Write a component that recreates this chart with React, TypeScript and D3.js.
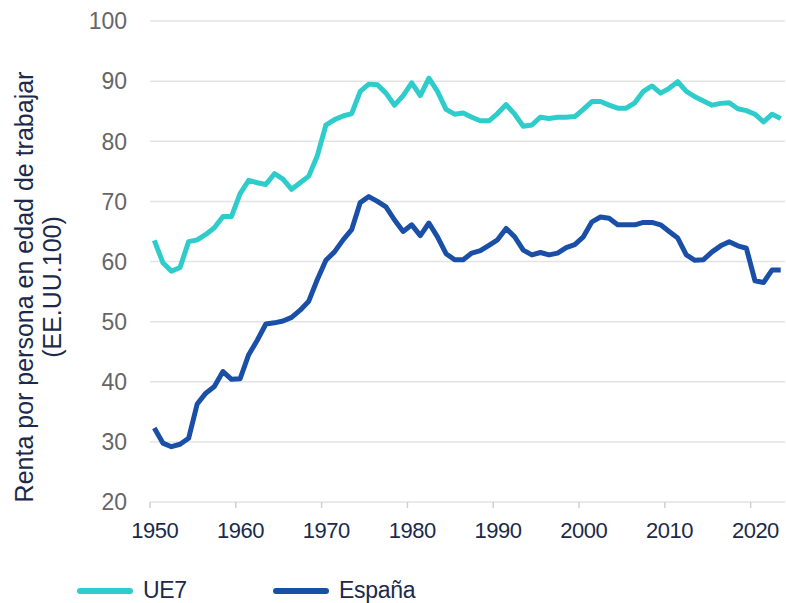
import { useEffect, useRef } from "react";
import * as d3 from "d3";

const years = d3.range(1950, 2024);

const ue7 = [
  63.5, 59.8, 58.4, 59.0, 63.3, 63.6, 64.5, 65.6, 67.5, 67.5,
  71.3, 73.5, 73.1, 72.8, 74.6, 73.7, 72.0, 73.1, 74.2, 77.6,
  82.7, 83.6, 84.2, 84.6, 88.3, 89.5, 89.4, 88.0, 86.0, 87.6,
  89.7, 87.6, 90.5, 88.3, 85.3, 84.5, 84.7, 84.0, 83.4, 83.4,
  84.6, 86.1, 84.5, 82.5, 82.7, 84.0, 83.8, 84.0, 84.0, 84.1,
  85.3, 86.6, 86.6, 86.0, 85.5, 85.5, 86.4, 88.3, 89.2, 88.0,
  88.8, 89.9, 88.3, 87.4, 86.7, 86.0, 86.3, 86.4, 85.4, 85.1,
  84.5, 83.2, 84.5, 83.8,
];

const espana = [
  32.3, 29.8, 29.2, 29.6, 30.6, 36.3, 38.1, 39.2, 41.7, 40.4,
  40.5, 44.5, 46.9, 49.6, 49.8, 50.1, 50.7, 51.9, 53.4, 57.0,
  60.2, 61.6, 63.6, 65.3, 69.8, 70.8, 70.0, 69.1, 66.9, 65.0,
  66.1, 64.3, 66.4, 64.1, 61.3, 60.3, 60.3, 61.4, 61.8, 62.7,
  63.6, 65.5, 64.1, 61.9, 61.1, 61.5, 61.1, 61.4, 62.3, 62.8,
  64.1, 66.6, 67.4, 67.2, 66.1, 66.1, 66.1, 66.5, 66.5, 66.1,
  65.0, 63.9, 61.1, 60.2, 60.3, 61.6, 62.6, 63.3, 62.6, 62.2,
  56.8, 56.5, 58.6, 58.6,
];

const xTicks = [1950, 1960, 1970, 1980, 1990, 2000, 2010, 2020];
const yTicks = [20, 30, 40, 50, 60, 70, 80, 90, 100];

const series = [
  { name: "UE7", values: ue7, color: "#2ECCCB" },
  { name: "España", values: espana, color: "#1A4FA8" },
];

const App = () => {
  const svgRef = useRef<SVGSVGElement>(null);

  useEffect(() => {
    document.body.style.margin = "0";
    if (!svgRef.current) return;

    const svg = d3.select(svgRef.current);
    svg.selectAll("*").remove();

    const width = 786;
    const height = 603;
    const margin = { top: 21, right: 1, bottom: 101, left: 150 };
    const navy = "#1B2A4A";
    const font = "Liberation Sans, Arial, sans-serif";

    const x = d3
      .scaleLinear()
      .domain([1950, 2024])
      .range([margin.left, width - margin.right]);

    const y = d3
      .scaleLinear()
      .domain([20, 100])
      .range([height - margin.bottom, margin.top]);

    // Gridlines
    svg
      .append("g")
      .selectAll("line")
      .data(yTicks)
      .join("line")
      .attr("x1", margin.left)
      .attr("x2", width - margin.right)
      .attr("y1", (d) => y(d))
      .attr("y2", (d) => y(d))
      .attr("stroke", "#E3E3E3")
      .attr("stroke-width", 1.5);

    // Y labels
    svg
      .append("g")
      .selectAll("text")
      .data(yTicks)
      .join("text")
      .attr("x", 127)
      .attr("y", (d) => y(d))
      .attr("dy", "0.36em")
      .attr("text-anchor", "end")
      .attr("fill", "#666666")
      .attr("font-family", font)
      .attr("font-size", "23px")
      .text((d) => d);

    // X axis ticks
    svg
      .append("g")
      .selectAll("line")
      .data(xTicks)
      .join("line")
      .attr("x1", (d) => x(d))
      .attr("x2", (d) => x(d))
      .attr("y1", y(20))
      .attr("y2", y(20) + 6)
      .attr("stroke", "#D0D0D0")
      .attr("stroke-width", 1.5);

    svg
      .append("g")
      .selectAll("text")
      .data(xTicks)
      .join("text")
      .attr("x", (d) => x(d + 0.55))
      .attr("y", 538)
      .attr("text-anchor", "middle")
      .attr("fill", navy)
      .attr("font-family", font)
      .attr("font-size", "22px")
      .attr("letter-spacing", "-0.5px")
      .text((d) => d);

    // Lines
    const line = d3
      .line<number>()
      .x((_, i) => x(years[i] + 0.5))
      .y((d) => y(d));

    svg
      .append("g")
      .selectAll("path")
      .data(series)
      .join("path")
      .attr("d", (d) => line(d.values))
      .attr("fill", "none")
      .attr("stroke", (d) => d.color)
      .attr("stroke-width", 5)
      .attr("stroke-linejoin", "round");

    // Y axis title
    const title = svg
      .append("text")
      .attr("transform", "translate(33,287) rotate(-90)")
      .attr("text-anchor", "middle")
      .attr("fill", navy)
      .attr("font-family", font)
      .attr("font-size", "25px");
    title.append("tspan").attr("x", 0).attr("y", 0).text("Renta por persona en edad de trabajar");
    title.append("tspan").attr("x", 0).attr("y", 28).text("(EE.UU.100)");

    // Legend
    const legend = svg
      .append("g")
      .selectAll("g")
      .data(series)
      .join("g")
      .attr("transform", (_, i) => `translate(${80 + i * 196},591)`);

    legend
      .append("line")
      .attr("x1", 0)
      .attr("x2", 50)
      .attr("stroke", (d) => d.color)
      .attr("stroke-width", 6)
      .attr("stroke-linecap", "round");

    legend
      .append("text")
      .attr("x", 63)
      .attr("y", 7)
      .attr("fill", navy)
      .attr("font-family", font)
      .attr("font-size", "23px")
      .attr("letter-spacing", "-0.3px")
      .text((d) => d.name);
  }, []);

  return <svg ref={svgRef} width={786} height={603} style={{ display: "block", background: "#fff" }} />;
};

export default App;
